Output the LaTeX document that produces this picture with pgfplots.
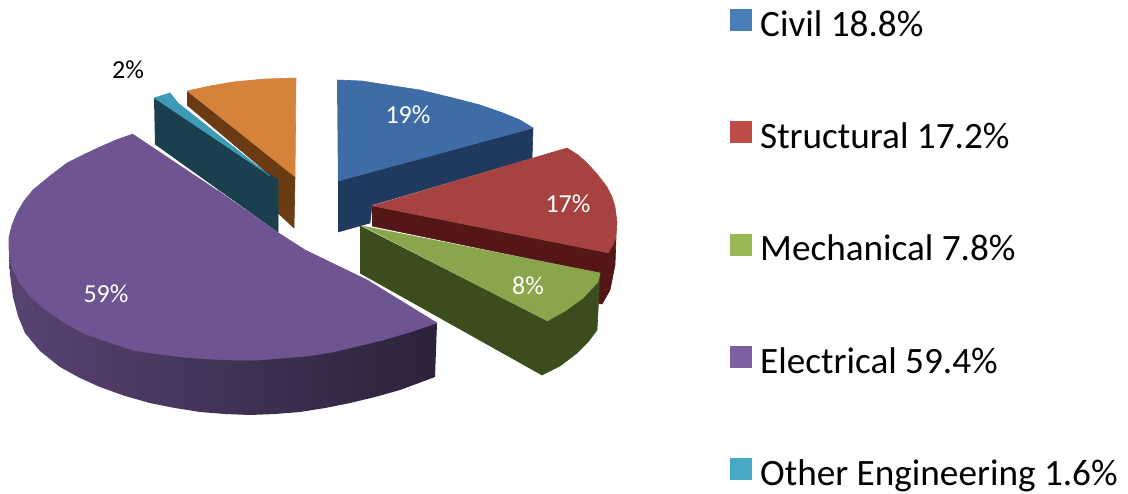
\documentclass[border=0pt]{standalone}
\usepackage{fontspec}
\setmainfont{Carlito}
\usepackage{pgfplots}
\pgfplotsset{compat=1.18}

\definecolor{civil}{HTML}{3F6CA6}
\definecolor{civild}{HTML}{1F3A5E}
\definecolor{struct}{HTML}{A64341}
\definecolor{structd}{HTML}{551617}
\definecolor{mech}{HTML}{8AA64D}
\definecolor{mechd}{HTML}{3B4D1C}
\definecolor{elec}{HTML}{6E5490}
\definecolor{other}{HTML}{3E9BB5}
\definecolor{otherd}{HTML}{1A4050}
\definecolor{orng}{HTML}{D5823A}
\definecolor{orngd}{HTML}{6B3B14}
\definecolor{lcivil}{HTML}{4A7EBB}
\definecolor{lstruct}{HTML}{BE4B48}
\definecolor{lmech}{HTML}{98B954}
\definecolor{lelec}{HTML}{7D60A0}
\definecolor{lother}{HTML}{46AAC5}

\pgfplotsset{
	face/.style={fill=#1, draw=#1, line width=0.3pt, line join=round, mark=none, forget plot},
	swatch/.style={legend image code/.code={\fill[#1] (0pt,-2.75pt) rectangle (10.5pt,7.75pt);}},
}

\begin{document}
\begin{tikzpicture}
	\useasboundingbox (0,0) rectangle (564pt,246.5pt);
	\begin{axis}[
		at={(0,0)}, anchor=south west,
		scale only axis,
		width=564pt,
		height=246.5pt,
		xmin=0, xmax=1128,
		ymin=0, ymax=493,
		y dir=reverse,
		hide axis,
		clip=false,
		legend cell align=left,
		legend style={
			draw=none, fill=none,
			at={(0.6475,0.983)}, anchor=north west,
			font=\fontsize{18.6}{20}\selectfont,
			row sep=39.75pt,
			inner sep=0pt, outer sep=0pt,
			nodes={inner sep=1pt},
			/tikz/every odd column/.append style={column sep=3pt},
		},
	]
	% legend first
	\addlegendimage{swatch=lcivil}
	\addlegendentry{Civil 18.8\%}
	\addlegendimage{swatch=lstruct}
	\addlegendentry{Structural 17.2\%}
	\addlegendimage{swatch=lmech}
	\addlegendentry{Mechanical 7.8\%}
	\addlegendimage{swatch=lelec}
	\addlegendentry{Electrical 59.4\%}
	\addlegendimage{swatch=lother}
	\addlegendentry{Other Engineering 1.6\%}

	% orange slice
	\addplot[face=orngd] coordinates {(187,91) (295,177) (294,228) (278,213) (270,175) (187,105)};
	\addplot[face=orng] coordinates {(187,91) (210,86) (233,82) (265,79) (296,78) (295,177)};

	% other engineering
	\addplot[face=otherd] coordinates {(154,98) (278,180) (278,232) (155,144)};
	\addplot[face=other] coordinates {(154,98) (170,93) (178,103) (270,176)};

	% civil
	\addplot[face=civild] coordinates {(338,181) (533,128) (532,158) (372,205) (370,223) (338,232)};
	\addplot[face=civil] coordinates {(337,80) (362,81) (387,85) (420,90) (453,98) (480,105) (503,113) (520,120) (533,128) (338,181)};

	% structural
	\addplot[face=structd] coordinates {(372,206) (608,253) (616,238) (615,265) (610,290) (602,304) (598,303) (600,273) (372,226)};
	\addplot[face=struct] coordinates {(372,206) (567,148) (578,155) (587,163) (597,174) (607,187) (612,197) (615,207) (617,222) (616,237) (613,245) (608,253)};

	% mechanical
	\addplot[face=mechd] coordinates {(360,226) (547,321) (600,273) (597,330) (588,342) (577,353) (560,366) (542,375) (360,273)};
	\addplot[face=mech] coordinates {(362,226) (600,273) (598,282) (583,298) (565,311) (547,321)};

	% electrical
	\addplot[draw=none, mark=none, forget plot, shade, shading angle=0, left color=elec!80!black, right color=elec!40!black]
		coordinates {(9,240) (9,250) (10,275) (13,297) (18,316) (25,333) (40,351) (60,367) (80,378) (100,387) (125,396) (150,403) (175,408) (200,412) (225,414) (250,415) (275,414) (300,412) (325,408) (350,403) (375,397) (400,390) (435,377) (437,323) (300,300) (100,290)};
	\addplot[face=elec] coordinates {(133,134) (116,140) (100,147) (83,155) (67,163) (50,176) (33,190) (24,201) (17,213) (12,225) (9,237) (9,250) (12,267) (20,283) (30,296) (43,308) (62,321) (83,333) (108,342) (133,350) (158,354) (183,357) (208,359) (233,360) (258,360) (283,358) (308,356) (333,352) (358,346) (383,340) (410,332) (437,323) (367,280) (305,250) (277,232) (217,190)};

	\node[text=white, font=\fontsize{13}{14}\selectfont] at (axis cs:408,115) {19\%};
	\node[text=white, font=\fontsize{13}{14}\selectfont] at (axis cs:568,204) {17\%};
	\node[text=white, font=\fontsize{13}{14}\selectfont] at (axis cs:528,286) {8\%};
	\node[text=white, font=\fontsize{13}{14}\selectfont] at (axis cs:106,294) {59\%};
	\node[text=black, font=\fontsize{13}{14}\selectfont] at (axis cs:128,70) {2\%};
	\end{axis}
\end{tikzpicture}
\end{document}
